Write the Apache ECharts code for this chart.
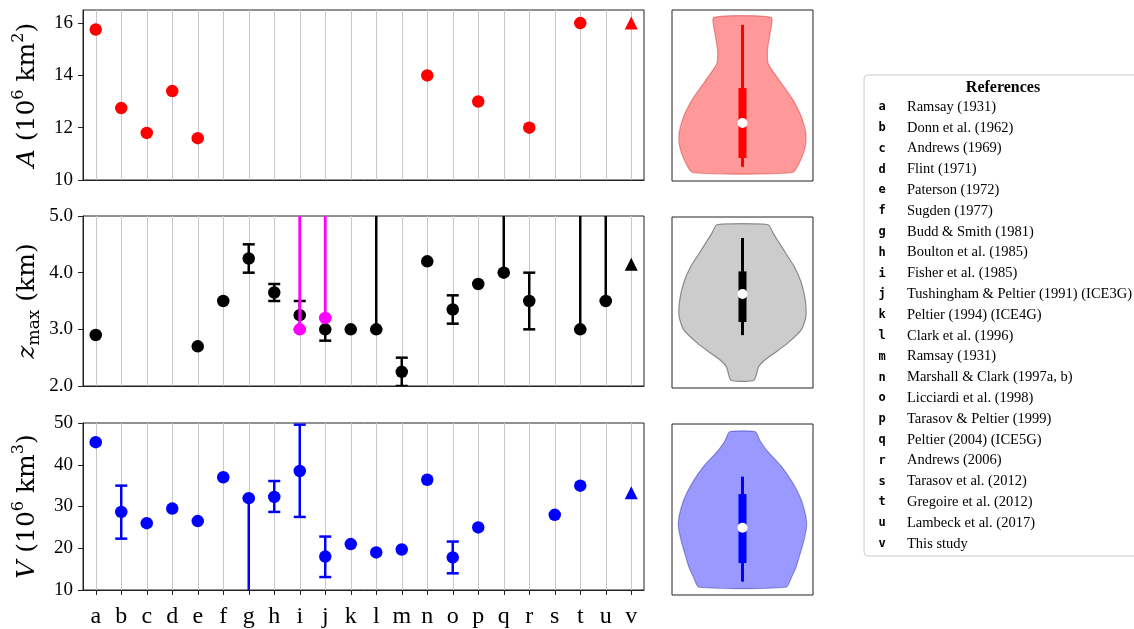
<!DOCTYPE html>
<html>
<head>
<meta charset="utf-8">
<script src="https://cdn.jsdelivr.net/npm/echarts@6/dist/echarts.min.js"></script>
<style>
html, body { margin: 0; padding: 0; background: #fff; }
#chart { width: 1134px; height: 629px; }
</style>
</head>
<body>
<div id="chart"></div>
<script>
const letters = ['a', 'b', 'c', 'd', 'e', 'f', 'g', 'h', 'i', 'j', 'k', 'l', 'm', 'n', 'o', 'p', 'q', 'r', 's', 't', 'u', 'v'];
const refs = ['Ramsay (1931)', 'Donn et al. (1962)', 'Andrews (1969)', 'Flint (1971)', 'Paterson (1972)',
  'Sugden (1977)', 'Budd & Smith (1981)', 'Boulton et al. (1985)', 'Fisher et al. (1985)',
  'Tushingham & Peltier (1991) (ICE3G)', 'Peltier (1994) (ICE4G)', 'Clark et al. (1996)', 'Ramsay (1931)',
  'Marshall & Clark (1997a, b)', 'Licciardi et al. (1998)', 'Tarasov & Peltier (1999)', 'Peltier (2004) (ICE5G)',
  'Andrews (2006)', 'Tarasov et al. (2012)', 'Gregoire et al. (2012)', 'Lambeck et al. (2017)', 'This study'];

// published values for a..u (null = not given), "this study" is v
const areaVals = [15.75, 12.75, 11.8, 13.4, 11.6, null, null, null, null, null, null, null, null, 14.0, null, 13.0, null, 12.0, null, 16.0, null];
const areaThisStudy = 16.0;

const zmaxVals = [2.9, null, null, null, 2.7, 3.5, 4.25, 3.65, 3.25, 3.0, 3.0, 3.0, 2.25, 4.2, 3.35, 3.8, 4.0, 3.5, null, 3.0, 3.5];
const zmaxLow = [null, null, null, null, null, null, 4.0, 3.5, 3.0, 2.8, null, 3.0, 2.0, null, 3.1, null, 4.0, 3.0, null, 3.0, 3.5];
const zmaxHigh = [null, null, null, null, null, null, 4.5, 3.8, 3.5, 3.2, null, 6, 2.5, null, 3.6, null, 6, 4.0, null, 6, 6];
const zmaxAltCats = ['i', 'j'];
const zmaxAltVals = [3.0, 3.2];
const zmaxAltHigh = [6, 6];
const zmaxThisStudy = 4.15;

const volVals = [45.4, 28.7, 26.0, 29.5, 26.5, 37.0, 32.0, 32.3, 38.5, 18.0, 21.0, 19.0, 19.7, 36.4, 17.8, 25.0, null, null, 28.0, 35.0, null];
const volLow = [null, 22.3, null, null, null, null, 0, 28.7, 27.5, 13.1, null, null, null, null, 14.0, null, null, null, null, null, null];
const volHigh = [null, 35.0, null, null, null, null, 32.0, 36.1, 49.6, 22.8, null, null, null, null, 21.6, null, null, null, null, null, null];
const volThisStudy = 33.3;

// violin outlines (level, relative half width) and stats [whisker lo, q1, median, q3, whisker hi]
const areaViolinLevels = [16.01, 15.56, 15.09, 14.71, 14.47, 14.14, 13.67, 13.20, 12.73, 12.35, 11.98, 11.62];
const areaViolinWidths = [0.45, 0.43, 0.39, 0.40, 0.48, 0.61, 0.79, 0.92, 0.99, 0.98, 0.91, 0.78];
const areaViolinStats = [11.78, 12.03, 13.02, 14.01, 15.80];

const zmaxViolinLevels = [4.25, 4.14, 3.93, 3.71, 3.50, 3.28, 3.07, 2.90, 2.73, 2.60, 2.51, 2.42, 2.25];
const zmaxViolinWidths = [0.40, 0.48, 0.64, 0.81, 0.92, 0.98, 0.99, 0.92, 0.71, 0.50, 0.35, 0.25, 0.18];
const zmaxViolinStats = [2.83, 3.00, 3.36, 3.65, 4.08];

const volViolinLevels = [45.5, 44.0, 42.25, 39.3, 36.3, 33.3, 30.4, 28.6, 26.2, 23.8, 21.5, 19.7, 17.8];
const volViolinWidths = [0.20, 0.27, 0.375, 0.61, 0.79, 0.92, 0.99, 1.0, 0.96, 0.90, 0.84, 0.77, 0.68];
const volViolinStats = [18.8, 22.1, 28.4, 34.4, 37.5];

const serif = 'Liberation Serif';
const nameFont = 'DejaVu Serif';
const cats = letters.slice(0, 21);

function points(vals) {
  const out = [];
  vals.forEach((v, k) => { if (v !== null) out.push([cats[k], v]); });
  return out;
}
function bars(lo, hi) {
  const out = [];
  lo.forEach((v, k) => { if (v !== null) out.push([cats[k], v, hi[k]]); });
  return out;
}

function errorBar(color, width) {
  return function (params, api) {
    const hi = api.coord([api.value(0), api.value(2)]);
    const lo = api.coord([api.value(0), api.value(1)]);
    const cap = 6;
    const style = { stroke: color, lineWidth: width };
    return {
      type: 'group',
      children: [
        { type: 'line', shape: { x1: hi[0], y1: hi[1], x2: lo[0], y2: lo[1] }, style: style },
        { type: 'line', shape: { x1: hi[0] - cap, y1: hi[1], x2: hi[0] + cap, y2: hi[1] }, style: style },
        { type: 'line', shape: { x1: lo[0] - cap, y1: lo[1], x2: lo[0] + cap, y2: lo[1] }, style: style }
      ]
    };
  };
}

function violin(levels, widths, stats, fill, edge, dark) {
  return function (params, api) {
    const pts = [];
    for (let k = 0; k < levels.length; k++) pts.push(api.coord([widths[k], levels[k]]));
    for (let k = levels.length - 1; k >= 0; k--) pts.push(api.coord([-widths[k], levels[k]]));
    const s = stats.map(v => api.coord([0, v]));
    return {
      type: 'group',
      children: [
        { type: 'polygon', shape: { points: pts, smooth: 0.2 }, style: { fill: fill, stroke: edge, lineWidth: 1.2 } },
        { type: 'line', shape: { x1: s[0][0], y1: s[0][1], x2: s[4][0], y2: s[4][1] }, style: { stroke: dark, lineWidth: 3 } },
        { type: 'line', shape: { x1: s[1][0], y1: s[1][1], x2: s[3][0], y2: s[3][1] }, style: { stroke: dark, lineWidth: 8 } },
        { type: 'circle', shape: { cx: s[2][0], cy: s[2][1], r: 5 }, style: { fill: '#fff' } }
      ]
    };
  };
}

const panelTops = [10, 216, 423];
const grids = panelTops.map(t => ({ left: 83, top: t, width: 561, height: 170, show: true, borderColor: '#222', borderWidth: 1 }))
  .concat([10, 217, 424].map(t => ({ left: 672, top: t, width: 141, height: 171, show: true, borderColor: '#222', borderWidth: 1 })));

const xAxes = [0, 1, 2].map(g => ({
  type: 'category', gridIndex: g, data: letters, boundaryGap: true,
  axisLine: { lineStyle: { color: '#222' } },
  axisTick: { show: g === 2, alignWithLabel: true, length: 5, lineStyle: { color: '#222' } },
  axisLabel: { show: g === 2, interval: 0, margin: 15, fontFamily: serif, fontSize: 24, color: '#000' },
  splitLine: { show: false }
})).concat([3, 4, 5].map(g => ({ type: 'value', gridIndex: g, min: -1.1, max: 1.1, show: false })));

const nameRich = {
  i: { fontFamily: nameFont, fontSize: 25, fontStyle: 'italic', color: '#000' },
  sup: { fontFamily: nameFont, fontSize: 16, verticalAlign: 'top', lineHeight: 16, color: '#000' },
  sub: { fontFamily: nameFont, fontSize: 17, verticalAlign: 'bottom', lineHeight: 17, color: '#000' }
};
function yAxis(g, min, max, interval, ticks, name, digits) {
  return {
    type: 'value', gridIndex: g, min: min, max: max, interval: interval,
    name: name, nameLocation: 'middle', nameGap: 40,
    nameTextStyle: { fontFamily: nameFont, fontSize: 25, color: '#000', lineHeight: 32, rich: nameRich },
    axisLine: { show: true, lineStyle: { color: '#222' } },
    axisTick: { show: true, length: 5, customValues: ticks, lineStyle: { color: '#222' } },
    axisLabel: { customValues: ticks, margin: 10, fontFamily: serif, fontSize: 19, color: '#000',
      formatter: v => v.toFixed(digits) },
    splitLine: { show: false }
  };
}
const yAxes = [
  yAxis(0, 10, 16.5, 2, [10, 12, 14, 16], '{i|A} (10{sup|6} km{sup|2})', 0),
  yAxis(1, 2, 5, 1, [2, 3, 4, 5], '{i|z}{sub|max} (km)', 1),
  yAxis(2, 10, 50, 10, [10, 20, 30, 40, 50], '{i|V} (10{sup|6} km{sup|3})', 0),
  { type: 'value', gridIndex: 3, min: 11.38, max: 16.22, show: false },
  { type: 'value', gridIndex: 4, min: 2.15, max: 4.35, show: false },
  { type: 'value', gridIndex: 5, min: 16.415, max: 46.885, show: false }
];

const series = [];
[0, 1, 2].forEach(g => {
  series.push({
    type: 'scatter', xAxisIndex: g, yAxisIndex: g, data: [], z: 1, silent: true,
    markLine: {
      silent: true, z: 1, symbol: ['none', 'none'], label: { show: false },
      lineStyle: { color: '#c8c8c8', width: 1, type: 'solid' },
      data: letters.map(l => ({ xAxis: l }))
    }
  });
});

// A panel
series.push({ type: 'scatter', xAxisIndex: 0, yAxisIndex: 0, data: points(areaVals), symbolSize: 12.5, itemStyle: { color: '#ff0000', opacity: 1 }, z: 5 });
series.push({ type: 'scatter', xAxisIndex: 0, yAxisIndex: 0, data: [['v', areaThisStudy]], symbol: 'triangle', symbolSize: 13, itemStyle: { color: '#ff0000', opacity: 1 }, z: 5 });

// zmax panel
series.push({ type: 'custom', xAxisIndex: 1, yAxisIndex: 1, data: bars(zmaxLow, zmaxHigh), encode: { x: 0, y: [1, 2] }, renderItem: errorBar('#000', 2.5), clip: true, z: 3 });
series.push({ type: 'scatter', xAxisIndex: 1, yAxisIndex: 1, data: points(zmaxVals), symbolSize: 12.5, itemStyle: { color: '#000', opacity: 1 }, z: 4 });
series.push({ type: 'custom', xAxisIndex: 1, yAxisIndex: 1, data: zmaxAltCats.map((c, k) => [c, zmaxAltVals[k], zmaxAltHigh[k]]), encode: { x: 0, y: [1, 2] }, renderItem: errorBar('#ff00ff', 2.8), clip: true, z: 5 });
series.push({ type: 'scatter', xAxisIndex: 1, yAxisIndex: 1, data: zmaxAltCats.map((c, k) => [c, zmaxAltVals[k]]), symbolSize: 12.5, itemStyle: { color: '#ff00ff', opacity: 1 }, z: 6 });
series.push({ type: 'scatter', xAxisIndex: 1, yAxisIndex: 1, data: [['v', zmaxThisStudy]], symbol: 'triangle', symbolSize: 13, itemStyle: { color: '#000', opacity: 1 }, z: 5 });

// V panel
series.push({ type: 'custom', xAxisIndex: 2, yAxisIndex: 2, data: bars(volLow, volHigh), encode: { x: 0, y: [1, 2] }, renderItem: errorBar('#0000ff', 2.5), clip: true, z: 3 });
series.push({ type: 'scatter', xAxisIndex: 2, yAxisIndex: 2, data: points(volVals), symbolSize: 12.5, itemStyle: { color: '#0000ff', opacity: 1 }, z: 4 });
series.push({ type: 'scatter', xAxisIndex: 2, yAxisIndex: 2, data: [['v', volThisStudy]], symbol: 'triangle', symbolSize: 13, itemStyle: { color: '#0000ff', opacity: 1 }, z: 5 });

// violins
series.push({ type: 'custom', xAxisIndex: 3, yAxisIndex: 3, data: [[0, 0]], silent: true,
  renderItem: violin(areaViolinLevels, areaViolinWidths, areaViolinStats, 'rgba(255,0,0,0.4)', 'rgba(190,0,0,0.35)', '#ff0000') });
series.push({ type: 'custom', xAxisIndex: 4, yAxisIndex: 4, data: [[0, 0]], silent: true,
  renderItem: violin(zmaxViolinLevels, zmaxViolinWidths, zmaxViolinStats, 'rgba(0,0,0,0.2)', 'rgba(0,0,0,0.4)', '#000') });
series.push({ type: 'custom', xAxisIndex: 5, yAxisIndex: 5, data: [[0, 0]], silent: true,
  renderItem: violin(volViolinLevels, volViolinWidths, volViolinStats, 'rgba(0,0,255,0.4)', 'rgba(0,0,140,0.35)', '#0000ff') });

// reference legend
const graphic = [
  { type: 'rect', shape: { x: 864, y: 75, width: 300, height: 481, r: 4 }, style: { fill: '#fff', stroke: '#cccccc', lineWidth: 1 }, z: 10 },
  { type: 'text', x: 1003, y: 88, style: { text: 'References', font: 'bold 16px "Liberation Serif"', fill: '#000', align: 'center', verticalAlign: 'middle' }, z: 11 }
];
letters.forEach((l, k) => {
  const y = 107 + k * 20.8;
  graphic.push({ type: 'text', x: 882, y: y, style: { text: l, font: 'bold 12px "DejaVu Sans Mono"', fill: '#000', align: 'center', verticalAlign: 'middle' }, z: 11 });
  graphic.push({ type: 'text', x: 907, y: y, style: { text: refs[k], font: '14.5px "Liberation Serif"', fill: '#000', align: 'left', verticalAlign: 'middle' }, z: 11 });
});

const myChart = echarts.init(document.getElementById('chart'));
myChart.setOption({
  animation: false,
  grid: grids,
  xAxis: xAxes,
  yAxis: yAxes,
  series: series,
  graphic: graphic
});
</script>
</body>
</html>
